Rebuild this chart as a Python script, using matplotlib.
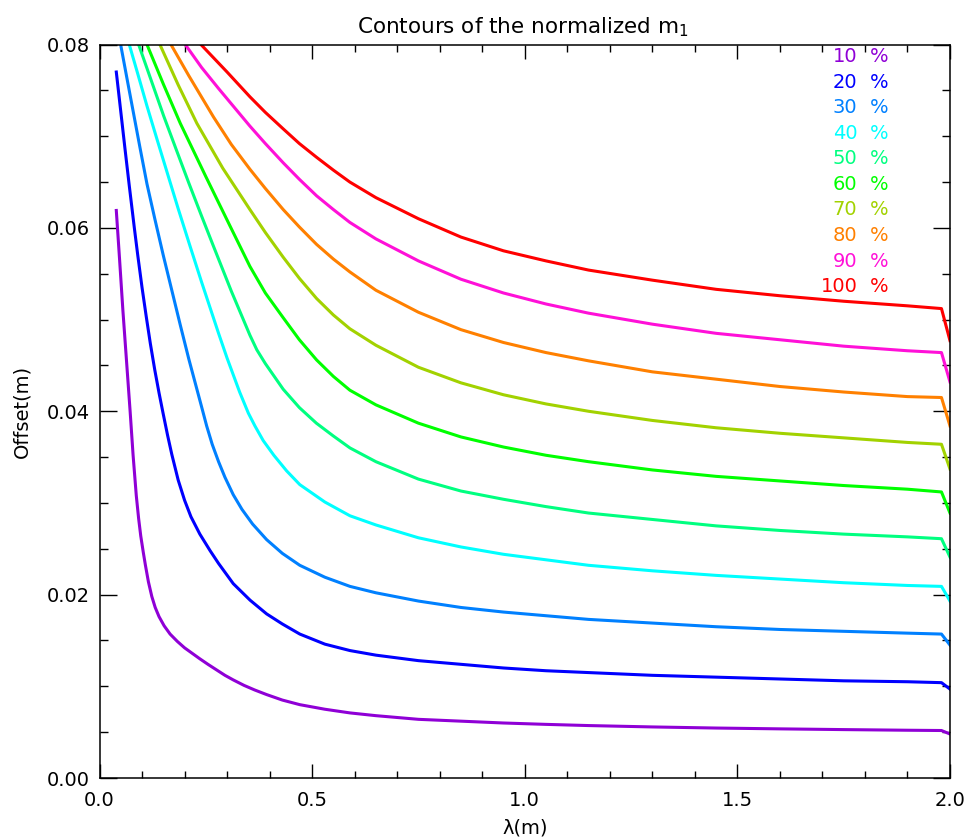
import matplotlib
matplotlib.use("Agg")
import matplotlib.pyplot as plt
from matplotlib.ticker import MultipleLocator, FormatStrFormatter

# contour levels (percent of the normalized m1) and their colours
levels = ["10", "20", "30", "40", "50", "60", "70", "80", "90", "100"]
colors = ["#8F00D6", "#0000FF", "#0080FF", "#00FFFF", "#00FF80",
          "#00FF00", "#A2D200", "#FF8000", "#FF10D8", "#FF0000"]

# values: lambda (m) and offset (m)
# every curve shares the same lambda points on the flat right-hand part
x_tail = [0.65, 0.75, 0.85, 0.95, 1.05, 1.15, 1.3, 1.45, 1.6, 1.75, 1.9, 1.98, 2.0]

x10 = [0.0395, 0.047, 0.055, 0.0635, 0.072, 0.079, 0.0865, 0.092, 0.097, 0.103,
       0.108, 0.115, 0.123, 0.131, 0.14, 0.152, 0.166, 0.183, 0.20, 0.218,
       0.236, 0.255, 0.275, 0.295, 0.3145, 0.34, 0.365, 0.393, 0.43, 0.471, 0.53, 0.589]
y10 = [0.0619, 0.0567, 0.0510, 0.0455, 0.0400, 0.0352, 0.0308, 0.0283, 0.0264, 0.0246,
       0.0232, 0.0214, 0.0198, 0.0186, 0.0176, 0.0166, 0.0157, 0.0149, 0.0142, 0.0136,
       0.0130, 0.0124, 0.0118, 0.0112, 0.0107, 0.0101, 0.0096, 0.0091, 0.0085, 0.0080, 0.0075, 0.0071]
t10 = [0.0068, 0.0064, 0.0062, 0.0060, 0.00585, 0.00572, 0.00557, 0.00545, 0.00536, 0.00528,
       0.00521, 0.00518, 0.0048]

x20 = [0.0395, 0.05, 0.06, 0.07, 0.0819, 0.09, 0.10, 0.11, 0.1195, 0.13, 0.14, 0.149, 0.16, 0.170,
       0.185, 0.20, 0.215, 0.236, 0.26, 0.280, 0.3145, 0.354, 0.393, 0.43, 0.471, 0.53, 0.589]
y20 = [0.0770, 0.0727, 0.0686, 0.0646, 0.0600, 0.0570, 0.0535, 0.0503, 0.0474, 0.0445, 0.0420, 0.0399,
       0.0374, 0.0353, 0.0325, 0.0303, 0.0285, 0.0266, 0.0248, 0.0234, 0.0212, 0.0194, 0.0179, 0.0168,
       0.0157, 0.0146, 0.0139]
t20 = [0.0134, 0.0128, 0.0124, 0.0120, 0.0117, 0.0115, 0.0112, 0.0110, 0.0108, 0.0106, 0.0105, 0.0104, 0.0097]

x30 = [0.040, 0.0505, 0.065, 0.08, 0.095, 0.1116, 0.13, 0.15, 0.17, 0.19, 0.21, 0.225, 0.24,
       0.252, 0.265, 0.28, 0.295, 0.3145, 0.335, 0.36, 0.393, 0.43, 0.471, 0.53, 0.589]
y30 = [0.0830, 0.0798, 0.0762, 0.0725, 0.0688, 0.0648, 0.0610, 0.0570, 0.0532, 0.0494, 0.0457, 0.0431,
       0.0405, 0.0384, 0.0364, 0.0345, 0.0328, 0.0309, 0.0293, 0.0277, 0.0260, 0.0245, 0.0232, 0.0219, 0.0209]
t30 = [0.0202, 0.0193, 0.0186, 0.0181, 0.0177, 0.0173, 0.0169, 0.0165, 0.0162, 0.0160, 0.0158, 0.0157, 0.0145]

x40 = [0.060, 0.070, 0.09, 0.1116, 0.135, 0.16, 0.185, 0.213, 0.24, 0.26, 0.28, 0.30, 0.3295,
       0.35, 0.3655, 0.385, 0.41, 0.44, 0.471, 0.53, 0.589]
y40 = [0.0818, 0.0800, 0.0768, 0.0733, 0.0697, 0.0659, 0.0621, 0.0580, 0.0541, 0.0513, 0.0485, 0.0458,
       0.0421, 0.0398, 0.0384, 0.0368, 0.0352, 0.0335, 0.0320, 0.0301, 0.0286]
t40 = [0.0276, 0.0262, 0.0252, 0.0244, 0.0238, 0.0232, 0.0226, 0.0221, 0.0217, 0.0213, 0.0210, 0.0209, 0.0193]

x50 = [0.085, 0.092, 0.12, 0.151, 0.18, 0.21, 0.24, 0.268, 0.31, 0.3537, 0.37, 0.39, 0.432, 0.47,
       0.51, 0.55, 0.589]
y50 = [0.0810, 0.0800, 0.0763, 0.0722, 0.0686, 0.0649, 0.0613, 0.0580, 0.0531, 0.0483, 0.0467, 0.0452,
       0.0424, 0.0404, 0.0387, 0.0373, 0.0360]
t50 = [0.0345, 0.0326, 0.0313, 0.0304, 0.0296, 0.0289, 0.0282, 0.0275, 0.0270, 0.0266, 0.0263, 0.0261, 0.0241]

x60 = [0.10, 0.1116, 0.15, 0.19, 0.25, 0.307, 0.3537, 0.39, 0.432, 0.47, 0.5105, 0.55, 0.5887]
y60 = [0.0813, 0.0800, 0.0757, 0.0714, 0.0656, 0.0602, 0.0558, 0.0529, 0.0502, 0.0478, 0.0456, 0.0438, 0.0423]
t60 = [0.0407, 0.0387, 0.0372, 0.0361, 0.0352, 0.0345, 0.0336, 0.0329, 0.0324, 0.0319, 0.0315, 0.0312, 0.0289]

x70 = [0.125, 0.142, 0.185, 0.229, 0.29, 0.3537, 0.39, 0.432, 0.47, 0.5105, 0.55, 0.5887]
y70 = [0.0815, 0.0800, 0.0756, 0.0714, 0.0665, 0.0620, 0.0595, 0.0568, 0.0545, 0.0523, 0.0505, 0.0490]
t70 = [0.0472, 0.0448, 0.0431, 0.0418, 0.0408, 0.0400, 0.0390, 0.0382, 0.0376, 0.0371, 0.0366, 0.0364, 0.0337]

x80 = [0.155, 0.168, 0.21, 0.268, 0.31, 0.3537, 0.39, 0.432, 0.47, 0.5105, 0.55, 0.5887]
y80 = [0.0811, 0.0800, 0.0766, 0.0721, 0.0691, 0.0664, 0.0643, 0.0620, 0.0601, 0.0582, 0.0566, 0.0552]
t80 = [0.0532, 0.0508, 0.0489, 0.0475, 0.0464, 0.0455, 0.0443, 0.0435, 0.0427, 0.0421, 0.0416, 0.0415, 0.0384]

x90 = [0.19, 0.2017, 0.24, 0.28, 0.3537, 0.39, 0.432, 0.47, 0.5105, 0.55, 0.5887]
y90 = [0.0808, 0.0800, 0.0775, 0.0752, 0.0711, 0.0692, 0.0671, 0.0653, 0.0635, 0.0620, 0.0606]
t90 = [0.0588, 0.0564, 0.0544, 0.0529, 0.0517, 0.0507, 0.0495, 0.0485, 0.0478, 0.0471, 0.0466, 0.0464, 0.0432]

x100 = [0.225, 0.2385, 0.3, 0.3537, 0.39, 0.432, 0.47, 0.5105, 0.55, 0.5887]
y100 = [0.0807, 0.0800, 0.0770, 0.0743, 0.0726, 0.0708, 0.0692, 0.0677, 0.0663, 0.0650]
t100 = [0.0633, 0.0610, 0.0590, 0.0575, 0.0564, 0.0554, 0.0543, 0.0533, 0.0526, 0.0520, 0.0515, 0.0512, 0.0477]

curves = [(x10, y10, t10), (x20, y20, t20), (x30, y30, t30), (x40, y40, t40), (x50, y50, t50),
          (x60, y60, t60), (x70, y70, t70), (x80, y80, t80), (x90, y90, t90), (x100, y100, t100)]

fig = plt.figure(figsize=(9.67, 8.4), dpi=100)
ax = fig.add_axes([0.1029, 0.0738, 0.8795, 0.8732])

for (xs, ys, ts), c in zip(curves, colors):
    ax.plot(xs + x_tail, ys + ts, color=c, lw=2.2)

ax.set_xlim(0, 2)
ax.set_ylim(0, 0.08)
ax.xaxis.set_major_locator(MultipleLocator(0.5))
ax.xaxis.set_minor_locator(MultipleLocator(0.1))
ax.yaxis.set_major_locator(MultipleLocator(0.02))
ax.yaxis.set_minor_locator(MultipleLocator(0.005))
ax.xaxis.set_major_formatter(FormatStrFormatter("%.1f"))
ax.yaxis.set_major_formatter(FormatStrFormatter("%.2f"))

ax.tick_params(which="both", direction="in", top=True, right=True, width=1, labelsize=14)
ax.tick_params(axis="x", which="major", length=10.4, pad=9)
ax.tick_params(axis="x", which="minor", length=5.2)
ax.tick_params(axis="y", which="major", length=12.2, pad=7)
ax.tick_params(axis="y", which="minor", length=6.1)
for s in ax.spines.values():
    s.set_linewidth(1.1)

# legend written as coloured text in the upper right corner
for i, (lab, c) in enumerate(zip(levels, colors)):
    yf = 0.9834 - i * 0.03483
    ax.text(0.891, yf, lab, transform=ax.transAxes, ha="right", va="center",
            color=c, fontsize=14)
    ax.text(0.906, yf, "%", transform=ax.transAxes, ha="left", va="center",
            color=c, fontsize=14)

fig.text(0.5408, 1 - 33 / 840, "Contours of the normalized m$_1$", ha="center",
         va="baseline", fontsize=15.5)
fig.text(525 / 967, 1 - 828 / 840, "λ(m)", ha="center", va="center", fontsize=14)
fig.text(22 / 967, 1 - 411 / 840, "Offset(m)", ha="center", va="center",
         rotation=90, fontsize=14)

fig.savefig("out.png", dpi=100)
